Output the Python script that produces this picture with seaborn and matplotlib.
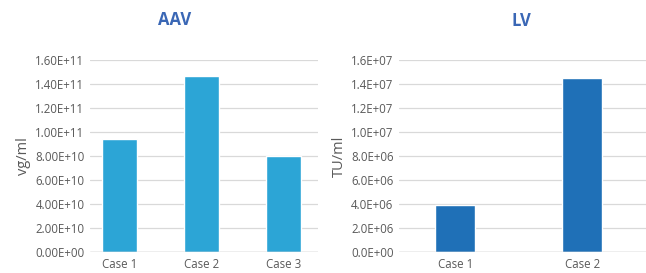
import matplotlib
matplotlib.use('Agg')
import matplotlib.pyplot as plt
import pandas as pd
import seaborn as sns

# Data
aav_cases = ['Case 1', 'Case 2', 'Case 3']
aav_values = [9.42e10, 1.467e11, 8.0e10]
aav_ticks = [0, 2e10, 4e10, 6e10, 8e10, 1e11, 1.2e11, 1.4e11, 1.6e11]
aav_ticklabels = ['0.00E+00', '2.00E+10', '4.00E+10', '6.00E+10', '8.00E+10',
                  '1.00E+11', '1.20E+11', '1.40E+11', '1.60E+11']

lv_cases = ['Case 1', 'Case 2']
lv_values = [3.89e6, 1.447e7]
lv_ticks = [0, 2e6, 4e6, 6e6, 8e6, 1e7, 1.2e7, 1.4e7, 1.6e7]
lv_ticklabels = ['0.0E+00', '2.0E+06', '4.0E+06', '6.0E+06', '8.0E+06',
                 '1.0E+07', '1.2E+07', '1.4E+07', '1.6E+07']

sns.set_style('white')
plt.rcParams['font.family'] = ['Open Sans', 'DejaVu Sans']

fig = plt.figure(figsize=(6.46, 2.73), dpi=100)
W, H = 646, 273


def axes_px(x0, x1, y0, y1):
    return fig.add_axes([x0 / W, 1 - y1 / H, (x1 - x0) / W, (y1 - y0) / H])


def style_axis(ax, ticks, ticklabels, ylabel, ymax):
    ax.set_ylim(0, ymax)
    ax.set_yticks(ticks)
    ax.set_yticklabels(ticklabels)
    ax.grid(axis='y', color='#D9D9D9', linewidth=0.9)
    ax.grid(axis='x', visible=False)
    ax.set_axisbelow(True)
    for s in ax.spines.values():
        s.set_visible(False)
    ax.axhline(0, color='#BFBFBF', linewidth=1.0, zorder=1)
    ax.tick_params(axis='both', length=0, labelsize=8.3, colors='#595959')
    ax.tick_params(axis='y', pad=4)
    ax.tick_params(axis='x', pad=4)
    ax.set_xlabel('')
    ax.set_ylabel(ylabel, fontsize=10.5, color='#595959', labelpad=3)


# AAV panel
ax1 = axes_px(90, 318, 60, 252)
df_aav = pd.DataFrame({'case': aav_cases, 'value': aav_values})
sns.barplot(data=df_aav, x='case', y='value', color='#2CA5D6', saturation=1,
            width=0.42, ax=ax1)
ax1.set_xlim(-0.357, 2.42)
style_axis(ax1, aav_ticks, aav_ticklabels, 'vg/ml', 1.6e11)
fig.text(175 / W, 1 - 20 / H, 'AAV', ha='center', va='center',
         fontsize=12, fontweight='bold', color='#3A67B5')

# LV panel
ax2 = axes_px(399, 646, 60, 252)
df_lv = pd.DataFrame({'case': lv_cases, 'value': lv_values})
sns.barplot(data=df_lv, x='case', y='value', color='#1F70B7', saturation=1,
            width=0.315, ax=ax2)
ax2.set_xlim(-0.444, 1.5)
style_axis(ax2, lv_ticks, lv_ticklabels, 'TU/ml', 1.6e7)
fig.text(521 / W, 1 - 21 / H, 'LV', ha='center', va='center',
         fontsize=12, fontweight='bold', color='#3A67B5')

fig.savefig('out.png', dpi=100)
